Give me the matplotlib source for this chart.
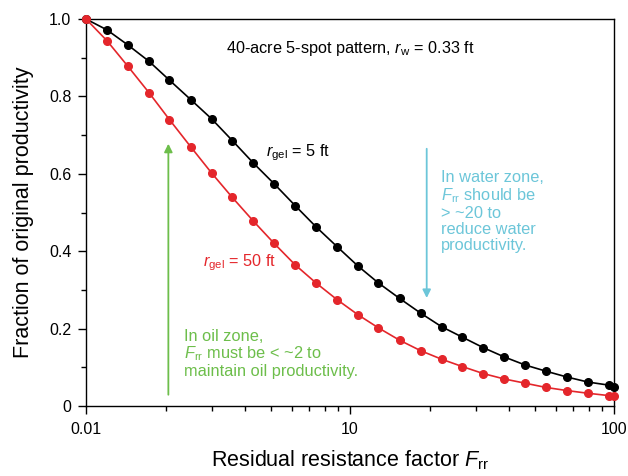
import matplotlib
matplotlib.use("Agg")
import matplotlib.pyplot as plt
from matplotlib.ticker import FixedLocator, NullFormatter

plt.rcParams['font.family'] = ['Liberation Sans', 'DejaVu Sans']
plt.rcParams['mathtext.fontset'] = 'custom'
plt.rcParams['mathtext.rm'] = 'Liberation Sans'
plt.rcParams['mathtext.it'] = 'Liberation Sans:italic'

# residual resistance factor (x) and productivity fractions
frr = [1, 1.2, 1.44, 1.73, 2.07, 2.49, 2.99, 3.58, 4.30, 5.16, 6.19, 7.43,
       8.92, 10.7, 12.8, 15.4, 18.5, 22.2, 26.6, 31.9, 38.3, 46.0, 55.2,
       66.2, 79.5, 95.4, 100]
prod_5ft = [1.0, 0.972, 0.933, 0.891, 0.842, 0.792, 0.742, 0.686, 0.628,
            0.574, 0.518, 0.463, 0.412, 0.362, 0.318, 0.278, 0.240, 0.205,
            0.178, 0.151, 0.127, 0.106, 0.090, 0.075, 0.062, 0.054, 0.048]
prod_50ft = [1.0, 0.944, 0.878, 0.810, 0.740, 0.670, 0.602, 0.539, 0.478,
             0.420, 0.365, 0.318, 0.275, 0.236, 0.202, 0.170, 0.143, 0.121,
             0.102, 0.084, 0.070, 0.059, 0.048, 0.040, 0.033, 0.027, 0.026]

xticks = [1, 10, 100]
xticklabels = ['0.01', '10', '100']
yticks = [0, 0.2, 0.4, 0.6, 0.8, 1.0]
yticklabels = ['0', '0.2', '0.4', '0.6', '0.8', '1.0']

red = '#e4262b'
green = '#6dbe4b'
cyan = '#6cc6d9'

fig = plt.figure(figsize=(6.28, 4.76), dpi=100)
ax = fig.add_axes([0.137, 0.147, 0.841, 0.813])

ax.plot(frr, prod_5ft, color='black', lw=1.2, marker='o', ms=5.5, clip_on=False, zorder=3)
ax.plot(frr, prod_50ft, color=red, lw=1.2, marker='o', ms=5.5, clip_on=False, zorder=4)

ax.set_xscale('log')
ax.set_xlim(1, 100)
ax.set_ylim(0, 1.0)
ax.xaxis.set_major_locator(FixedLocator(xticks))
ax.set_xticklabels(xticklabels)
ax.xaxis.set_minor_locator(FixedLocator([2, 3, 4, 5, 6, 7, 8, 9, 20, 30, 40, 50, 60, 70, 80, 90]))
ax.xaxis.set_minor_formatter(NullFormatter())
ax.set_yticks(yticks)
ax.set_yticklabels(yticklabels)
ax.set_yticks([0.1, 0.3, 0.5, 0.7, 0.9], minor=True)

ax.tick_params(which='major', direction='out', length=5.5, width=1, labelsize=11.5)
ax.tick_params(which='minor', direction='out', length=3.5, width=1)
ax.tick_params(axis='x', which='major', pad=6)
ax.tick_params(axis='y', which='major', pad=5)
for s in ax.spines.values():
    s.set_linewidth(1)

ax.set_xlabel(r'Residual resistance factor $\mathit{F}_{\rm rr}$', fontsize=15.5, labelpad=8)
ax.set_ylabel('Fraction of original productivity', fontsize=15.5, labelpad=11)

ax.text(0.5, 0.925, r'40-acre 5-spot pattern, $r_{\rm w}$ = 0.33 ft', transform=ax.transAxes,
        ha='center', va='center', fontsize=11.7)
ax.text(4.82, 0.654, r'$r_{\rm gel}$ = 5 ft', fontsize=11.7, ha='left', va='center')
ax.text(2.78, 0.37, r'$r_{\rm gel}$ = 50 ft', fontsize=11.7, ha='left', va='center', color=red)

ax.annotate('', xy=(2.05, 0.685), xytext=(2.05, 0.022),
            arrowprops=dict(arrowstyle='-|>', color=green, lw=1.3, mutation_scale=12))
ax.text(2.35, 0.2, 'In oil zone,\n' + r'$F_{\rm rr}$ must be < ~2 to' + '\nmaintain oil productivity.',
        fontsize=11.8, color=green, ha='left', va='top', linespacing=1.08)

ax.annotate('', xy=(19.5, 0.272), xytext=(19.5, 0.672),
            arrowprops=dict(arrowstyle='-|>', color=cyan, lw=1.3, mutation_scale=12))
ax.text(22.0, 0.61, 'In water zone,\n' + r'$F_{\rm rr}$ should be' + '\n> ~20 to\nreduce water\nproductivity.',
        fontsize=11.8, color=cyan, ha='left', va='top', linespacing=1.08)

fig.savefig('out.png', dpi=100)
